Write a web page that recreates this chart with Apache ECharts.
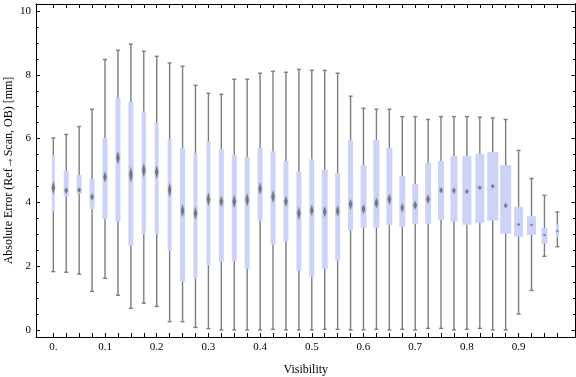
<!DOCTYPE html>
<html>
<head>
<meta charset="utf-8">
<script src="https://cdn.jsdelivr.net/npm/echarts@6/dist/echarts.min.js"></script>
<style>
html, body { margin: 0; padding: 0; background: #fff; }
#main { width: 576px; height: 377px; }
</style>
</head>
<body>
<div id="main"></div>
<script>
// box positions on the Visibility axis
var visibility = [0, 0.025, 0.05, 0.075, 0.1, 0.125, 0.15, 0.175, 0.2, 0.225,
  0.25, 0.275, 0.3, 0.325, 0.35, 0.375, 0.4, 0.425, 0.45, 0.475,
  0.5, 0.525, 0.55, 0.575, 0.6, 0.625, 0.65, 0.675, 0.7, 0.725,
  0.75, 0.775, 0.8, 0.825, 0.85, 0.875, 0.9, 0.925, 0.95, 0.975];

var whiskerHigh = [6.02, 6.13, 6.38, 6.92, 8.48, 8.77, 8.96, 8.74, 8.58, 8.37,
  8.27, 7.67, 7.42, 7.39, 7.86, 7.86, 8.05, 8.11, 8.08, 8.17,
  8.14, 8.14, 8.05, 7.33, 6.95, 6.92, 6.92, 6.69, 6.69, 6.60,
  6.69, 6.69, 6.69, 6.67, 6.65, 6.60, 5.63, 4.75, 4.22, 3.70];
var upperQ = [5.48, 4.98, 4.86, 4.73, 6.02, 7.27, 7.15, 6.85, 6.49, 5.99,
  5.71, 5.55, 5.92, 5.67, 5.49, 5.42, 5.71, 5.60, 5.29, 4.97,
  5.35, 5.02, 4.92, 5.95, 5.17, 5.96, 5.71, 4.83, 4.58, 5.24,
  5.30, 5.45, 5.45, 5.52, 5.58, 5.17, 3.86, 3.57, 3.19, 3.31];
var median = [4.46, 4.37, 4.39, 4.17, 4.80, 5.40, 4.87, 5.01, 4.95, 4.39,
  3.74, 3.66, 4.10, 4.03, 4.03, 4.08, 4.43, 4.18, 4.03, 3.66,
  3.75, 3.71, 3.73, 3.94, 3.79, 3.98, 4.10, 3.83, 3.91, 4.10,
  4.38, 4.37, 4.34, 4.46, 4.51, 3.90, 3.31, 3.29, 2.98, 3.10];
var lowerQ = [3.72, 4.18, 4.27, 3.79, 3.48, 3.40, 2.64, 3.01, 3.01, 2.49,
  1.52, 1.61, 2.02, 2.14, 2.17, 1.92, 3.43, 2.68, 2.78, 1.86,
  1.67, 1.92, 2.17, 3.12, 3.21, 3.21, 3.29, 3.23, 3.33, 3.33,
  3.45, 3.40, 3.30, 3.36, 3.43, 3.02, 2.92, 2.98, 2.71, 2.92];
var whiskerLow = [1.83, 1.81, 1.75, 1.21, 1.62, 1.09, 0.68, 0.84, 0.74, 0.26,
  0.26, 0.08, 0.04, 0, 0, 0, 0, 0.02, 0, 0,
  0, 0.02, 0.02, 0, 0, 0.02, 0, 0.02, 0, 0.05,
  0.05, 0, 0.02, 0.05, 0, 0, 0.50, 1.24, 2.31, 2.61];
// box width (visibility units) and median notch height (mm)
var boxWidth = [0.0058, 0.0097, 0.0097, 0.0097, 0.0097, 0.0097, 0.0097, 0.0083, 0.0077, 0.0077,
  0.0097, 0.0077, 0.0077, 0.0097, 0.0097, 0.0097, 0.0097, 0.0097, 0.0097, 0.0097,
  0.0097, 0.0116, 0.0097, 0.0097, 0.0116, 0.0116, 0.0116, 0.0116, 0.0116, 0.0116,
  0.0116, 0.0135, 0.0174, 0.0174, 0.0213, 0.0213, 0.0174, 0.0174, 0.0116, 0.0058];
var notch = [0.41, 0.19, 0.16, 0.22, 0.34, 0.41, 0.50, 0.44, 0.41, 0.44,
  0.41, 0.41, 0.41, 0.34, 0.41, 0.41, 0.38, 0.38, 0.34, 0.41,
  0.34, 0.34, 0.34, 0.34, 0.31, 0.34, 0.34, 0.28, 0.28, 0.28,
  0.19, 0.19, 0.16, 0.13, 0.13, 0.16, 0.08, 0.06, 0.06, 0.06];

var xLabelValues = [0, 0.1, 0.2, 0.3, 0.4, 0.5, 0.6, 0.7, 0.8, 0.9];
var yMajor = [0, 2, 4, 6, 8, 10];
var yMinor = [0.5, 1, 1.5, 2.5, 3, 3.5, 4.5, 5, 5.5, 6.5, 7, 7.5, 8.5, 9, 9.5];

var rows = visibility.map(function (v, i) {
  return [v, whiskerLow[i], lowerQ[i], median[i], upperQ[i], whiskerHigh[i], boxWidth[i], notch[i]];
});

var font = 'Liberation Serif, Times New Roman, serif';
var frame = { show: true, onZero: false, lineStyle: { color: '#000', width: 1 } };

function renderBox(params, api) {
  var x = api.value(0);
  var lo = api.coord([x, api.value(1)]);
  var q1 = api.coord([x, api.value(2)]);
  var md = api.coord([x, api.value(3)]);
  var q3 = api.coord([x, api.value(4)]);
  var hi = api.coord([x, api.value(5)]);
  var w = api.size([api.value(6), 0])[0];
  var nh = Math.max(api.size([0, api.value(7)])[1], 1.5);
  var cx = lo[0];
  var grey = '#7d7d7d';
  return {
    type: 'group',
    children: [
      { type: 'line', shape: { x1: cx, y1: lo[1], x2: cx, y2: hi[1] }, style: { stroke: grey, lineWidth: 1.4 } },
      { type: 'line', shape: { x1: cx - 2, y1: lo[1], x2: cx + 2, y2: lo[1] }, style: { stroke: grey, lineWidth: 1.4 } },
      { type: 'line', shape: { x1: cx - 2, y1: hi[1], x2: cx + 2, y2: hi[1] }, style: { stroke: grey, lineWidth: 1.4 } },
      { type: 'rect', shape: { x: cx - w / 2, y: q3[1], width: w, height: q1[1] - q3[1] }, style: { fill: '#cdd3f6' } },
      { type: 'polygon',
        shape: { points: [[cx, md[1] - nh / 2], [cx + 1.7, md[1]], [cx, md[1] + nh / 2], [cx - 1.7, md[1]]] },
        style: { fill: 'rgba(105,105,105,0.8)', shadowBlur: 2, shadowColor: 'rgba(105,105,105,0.6)' } }
    ]
  };
}

var myChart = echarts.init(document.getElementById('main'));

var option = {
  animation: false,
  grid: { left: 36, right: 0.5, top: 4, bottom: 40, containLabel: false, outerBoundsMode: 'none' },
  xAxis: [
    {
      type: 'value', position: 'bottom', min: -0.0335, max: 1.0101,
      name: 'Visibility', nameLocation: 'middle', nameGap: 27,
      nameTextStyle: { fontFamily: font, fontSize: 12, color: '#000' },
      axisLine: frame,
      axisTick: { show: true, inside: true, length: 4, customValues: visibility, lineStyle: { color: '#000' } },
      axisLabel: {
        customValues: xLabelValues, fontFamily: font, fontSize: 11, color: '#000', margin: 5,
        formatter: function (v) { return v === 0 ? '0.' : v.toFixed(1); }
      },
      splitLine: { show: false }
    },
    {
      type: 'value', position: 'top', min: -0.0335, max: 1.0101,
      axisLine: frame,
      axisTick: { show: true, inside: true, length: 4, customValues: visibility, lineStyle: { color: '#000' } },
      axisLabel: { show: false },
      splitLine: { show: false }
    }
  ],
  yAxis: [
    {
      type: 'value', position: 'left', min: -0.22, max: 10.22,
      name: 'Absolute Error (Ref\u2192Scan, OB) [mm]', nameLocation: 'middle', nameGap: 21,
      nameMoveOverlap: false,
      nameTextStyle: { fontFamily: font, fontSize: 12, color: '#000' },
      axisLine: frame,
      axisTick: { show: true, inside: true, length: 4, customValues: yMajor, lineStyle: { color: '#000' } },
      axisLabel: { customValues: yMajor, fontFamily: font, fontSize: 11, color: '#000', margin: 5 },
      splitLine: { show: false }
    },
    {
      type: 'value', position: 'left', min: -0.22, max: 10.22,
      axisLine: frame,
      axisTick: { show: true, inside: true, length: 2.5, customValues: yMinor, lineStyle: { color: '#000' } },
      axisLabel: { show: false },
      splitLine: { show: false }
    },
    {
      type: 'value', position: 'right', min: -0.22, max: 10.22,
      axisLine: frame,
      axisTick: { show: true, inside: true, length: 4, customValues: yMajor, lineStyle: { color: '#000' } },
      axisLabel: { show: false },
      splitLine: { show: false }
    },
    {
      type: 'value', position: 'right', min: -0.22, max: 10.22,
      axisLine: frame,
      axisTick: { show: true, inside: true, length: 2.5, customValues: yMinor, lineStyle: { color: '#000' } },
      axisLabel: { show: false },
      splitLine: { show: false }
    }
  ],
  series: [
    {
      type: 'custom',
      xAxisIndex: 0,
      yAxisIndex: 0,
      renderItem: renderBox,
      encode: { x: 0, y: [1, 5] },
      data: rows
    }
  ]
};

myChart.setOption(option);
</script>
</body>
</html>
